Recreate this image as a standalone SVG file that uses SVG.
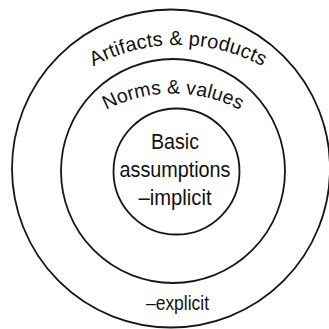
<svg xmlns="http://www.w3.org/2000/svg" width="329" height="329" viewBox="0 0 329 329">
<style>
.ring{fill:none;stroke:#161616;stroke-width:1.8}
.t{font-family:"Liberation Sans",Arial,Helvetica,sans-serif;fill:#111}
</style>
<defs>
<path id="arcOuter" d="M89,68.8 A178,178 0 0 1 267,68.8"/>
<path id="arcMiddle" d="M101,112.8 A144,144 0 0 1 245,112.8"/>
</defs>
<rect width="329" height="329" fill="#fff"/>
<g id="outer">
<circle class="ring" cx="171" cy="168.5" r="159"/>
<text class="t" font-size="20" text-anchor="middle"><textPath href="#arcOuter" startOffset="50%" textLength="176" lengthAdjust="spacing">Artifacts &amp; products</textPath></text>
<text class="t" x="177.5" y="310" font-size="19.5" text-anchor="middle" textLength="63" lengthAdjust="spacingAndGlyphs">–explicit</text>
</g>
<g id="middle">
<circle class="ring" cx="173" cy="171" r="112"/>
<text class="t" font-size="19.5" text-anchor="middle"><textPath href="#arcMiddle" startOffset="50%" textLength="139" lengthAdjust="spacing">Norms &amp; values</textPath></text>
</g>
<g id="inner">
<circle class="ring" cx="176.5" cy="171.5" r="63"/>
<text class="t" font-size="21.5" text-anchor="middle" lengthAdjust="spacingAndGlyphs"><tspan x="175" y="149" textLength="48" lengthAdjust="spacingAndGlyphs">Basic</tspan><tspan x="175" y="177" textLength="111" lengthAdjust="spacingAndGlyphs">assumptions</tspan><tspan x="175" y="205" textLength="73" lengthAdjust="spacingAndGlyphs">–implicit</tspan></text>
</g>
</svg>
